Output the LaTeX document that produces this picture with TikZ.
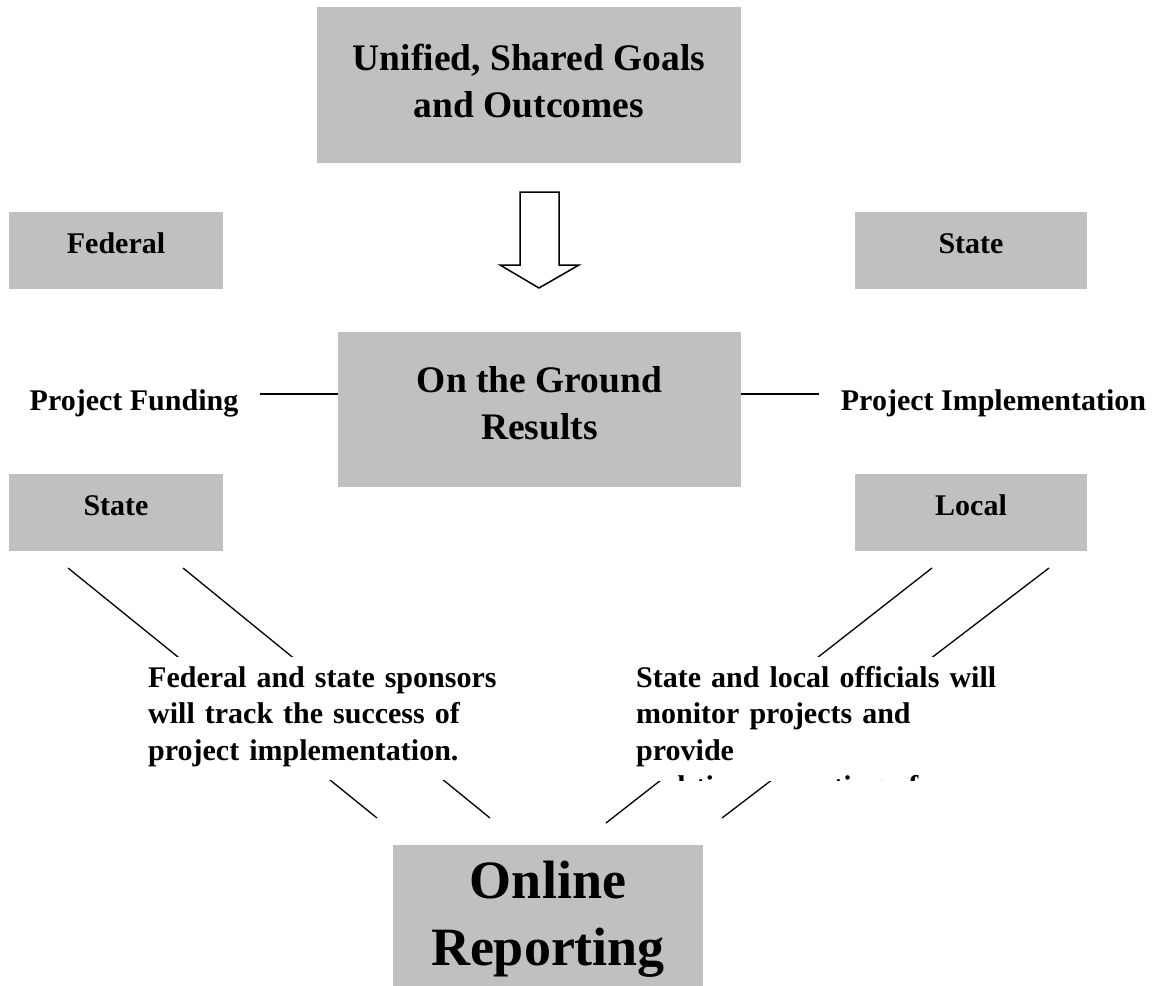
\documentclass[tikz,border=0pt]{standalone}
\usepackage{fontspec}
\setmainfont{Liberation Serif}
\definecolor{boxgray}{RGB}{192,192,192}

\begin{document}
\begin{tikzpicture}[x=1pt,y=-1pt,
    every node/.style = {align=center, inner sep=0pt},
    gbox/.style={fill=boxgray, minimum width=214pt, minimum height=77pt,
      text height=20pt, text depth=15pt,
      font=\bfseries\fontsize{30}{36.5}\selectfont},
    bigbox/.style={fill=boxgray, text depth=10pt,
      font=\bfseries\fontsize{37.5}{46.5}\selectfont},
    side/.style={anchor=base, font=\bfseries\fontsize{30}{36.5}\selectfont},
    note/.style={fill=white, anchor=north west, align=left, text width=400pt,
      inner xsep=8pt, inner ysep=10pt, text height=20pt,
      font=\bfseries\fontsize{30}{36.5}\selectfont},
    link/.style={line width=1.3pt}]
    \clip (0,0) rectangle (1156,985);
    \node[bigbox, minimum width=424pt, minimum height=156pt, text height=74pt] (1) at (529, 85) {Unified, Shared Goals\\and Outcomes};
    \node[gbox] (2) at (116, 250.5) {Federal};
    \node[gbox, minimum width=232pt] (3) at (971, 250.5) {State};
    \node[bigbox, minimum width=403pt, minimum height=155pt, text height=69pt] (4) at (539.5, 409.5) {On the Ground\\Results};
    \node[gbox] (5) at (116, 512.5) {State};
    \node[gbox, minimum width=232pt] (6) at (971, 512.5) {Local};
    \node[fill=boxgray, minimum width=310pt, minimum height=160pt, text height=90pt, text depth=10pt,
      font=\bfseries\fontsize{54}{67}\selectfont] (7) at (548, 925) {Online\\Reporting};
    \node[side] (8) at (134, 410) {Project Funding};
    \node[side] (9) at (993.5, 410) {Project Implementation};
    % block arrow between the goals and the results
    \draw[line width=1.5pt, fill=white] (520,192) -- (559,192) -- (559,265) -- (579,265)
        -- (539,288) -- (500,265) -- (520,265) -- cycle;
    \coordinate (f1) at (260,394);
    \coordinate (f2) at (819,394);
    \coordinate (l1) at (68,568);
    \coordinate (l2) at (377,818);
    \coordinate (l3) at (183,568);
    \coordinate (l4) at (490,818);
    \coordinate (r1) at (932,568);
    \coordinate (r2) at (606,823);
    \coordinate (r3) at (1049,568);
    \coordinate (r4) at (722,818);
    \path[link]
        (f1) edge (f1 -| 4.west)
        (4.east |- f2) edge (f2)
        (l1) edge (l2)
        (l3) edge (l4)
        (r1) edge (r2)
        (r3) edge (r4);
    \node[note, text depth=83pt] (10) at (140, 657) {Federal and state sponsors\\will track the success of\\project implementation.};
    \begin{scope}
        \clip (628,657) rectangle (1000,780);
        \node[note] (11) at (628, 657) {State and local officials will\\monitor projects and\\provide\\real-time reporting of};
    \end{scope}
\end{tikzpicture}
\end{document}
